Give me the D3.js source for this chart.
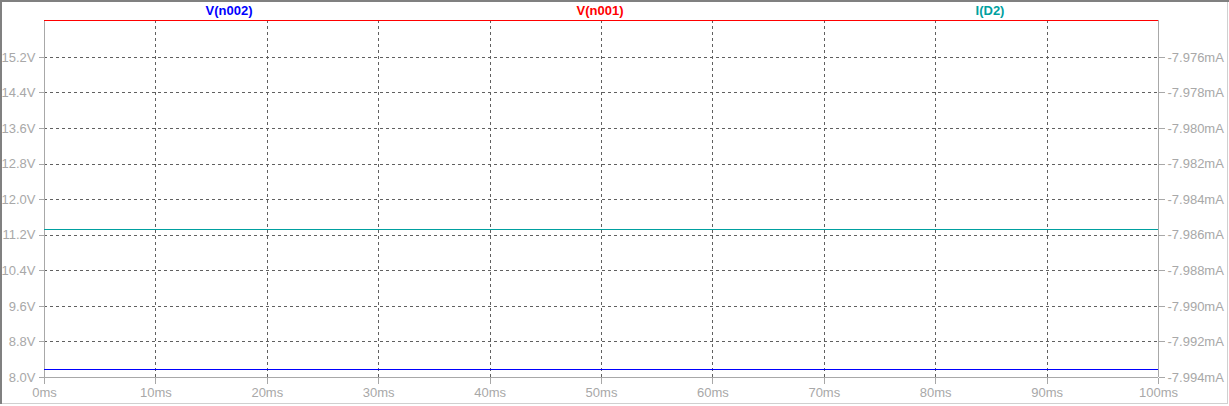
<!DOCTYPE html>
<html><head><meta charset="utf-8">
<script src="https://cdn.jsdelivr.net/npm/d3@7"></script>
<style>body{margin:0;background:#fff;}svg{display:block;font-family:"Liberation Sans",Arial,sans-serif;}</style>
</head><body>
<svg id="c" width="1229" height="406"></svg>
<script>
const timeTicks = [0,10,20,30,40,50,60,70,80,90,100];
const voltTicks = [8.0,8.8,9.6,10.4,11.2,12.0,12.8,13.6,14.4,15.2];
const currTicks = [-7.994,-7.992,-7.990,-7.988,-7.986,-7.984,-7.982,-7.980,-7.978,-7.976];
const seriesNames = ["V(n002)","V(n001)","I(D2)"];
const seriesColors = ["#0000ff","#ff0000","#00a0a0"];
const vn002 = [8.173,8.173];
const vn001 = [16.03,16.03];
const id2 = [-7.98570,-7.98570];
const tPts = [0,100];

const svg = d3.select("#c");
const L=44,R=1158,T=20,B=377;
const x = d3.scaleLinear().domain([0,100]).range([L,R]);
const yV = d3.scaleLinear().domain([8.0,16.03]).range([B,T]);
const yI = d3.scaleLinear().domain([-7.994,-7.994+ (16.03-8.0)/0.8*0.002]).range([B,T]);

// outer frame
svg.append("rect").attr("x",0.5).attr("y",0.5).attr("width",1227).attr("height",403).attr("fill","none").attr("stroke","#d0d0d0");
svg.append("line").attr("x1",0).attr("x2",1229).attr("y1",1).attr("y2",1).attr("stroke","#808080").attr("stroke-width",2);
svg.append("line").attr("x1",1).attr("x2",1).attr("y1",0).attr("y2",404).attr("stroke","#808080").attr("stroke-width",2);

// grid
const g = svg.append("g");
g.selectAll(".vg").data(timeTicks.slice(1,-1)).enter().append("line")
 .attr("x1",d=>Math.round(x(d))+0.5).attr("x2",d=>Math.round(x(d))+0.5).attr("y1",T).attr("y2",B)
 .attr("stroke","#606060").attr("stroke-dasharray","3,3");
g.selectAll(".hg").data(voltTicks.slice(1)).enter().append("line")
 .attr("x1",L).attr("x2",R).attr("y1",d=>Math.round(yV(d))+0.5).attr("y2",d=>Math.round(yV(d))+0.5)
 .attr("stroke","#606060").attr("stroke-dasharray","3,3");

// axes
const axCol="#a8a8a8";
const ax = d3.axisBottom(x).tickValues(timeTicks).tickFormat(d=>d+"ms").tickSize(6).tickPadding(4);
const gx = svg.append("g").attr("transform",`translate(0,${B+0.5})`).call(ax);
const ayL = d3.axisLeft(yV).tickValues(voltTicks).tickFormat(d=>d.toFixed(1)+"V").tickSize(6).tickPadding(3);
const gyl = svg.append("g").attr("transform",`translate(${L+0.5},0)`).call(ayL);
const ayR = d3.axisRight(yI).tickValues(currTicks).tickFormat(d=>d.toFixed(3)+"mA").tickSize(6).tickPadding(3);
const gyr = svg.append("g").attr("transform",`translate(${R+0.5},0)`).call(ayR);
[gx,gyl,gyr].forEach(a=>{
  a.select(".domain").attr("stroke",axCol).attr("shape-rendering","crispEdges");
  a.selectAll(".tick line").attr("stroke",axCol).attr("shape-rendering","crispEdges");
  a.selectAll("text").attr("fill",axCol).attr("font-size",13).attr("font-family","Liberation Sans, Arial, sans-serif");
});
gx.select(".domain").attr("d",`M${L},0H${R}`);
gyl.select(".domain").attr("d",`M0,${B}V${T}`);
gyr.select(".domain").attr("d",`M0,${B}V${T}`);

// series
const line = (ys)=>d3.line().x((d,i)=>x(tPts[i])).y(d=>ys(d));
svg.append("path").datum(vn002).attr("d",line(yV)).attr("stroke",seriesColors[0]).attr("stroke-width",1).attr("fill","none").attr("shape-rendering","crispEdges");
svg.append("path").datum(id2).attr("d",line(yI)).attr("stroke",seriesColors[2]).attr("stroke-width",1).attr("fill","none").attr("shape-rendering","crispEdges");
svg.append("path").datum(vn001).attr("d",line(yV)).attr("stroke",seriesColors[1]).attr("stroke-width",1).attr("fill","none").attr("shape-rendering","crispEdges");

// titles
const titleX=[229,600,990];
svg.selectAll(".ttl").data(seriesNames).enter().append("text")
 .attr("x",(d,i)=>titleX[i]).attr("y",15).attr("text-anchor","middle")
 .attr("font-size",13).attr("font-weight","bold").attr("fill",(d,i)=>seriesColors[i]).text(d=>d);
</script>
</body></html>
